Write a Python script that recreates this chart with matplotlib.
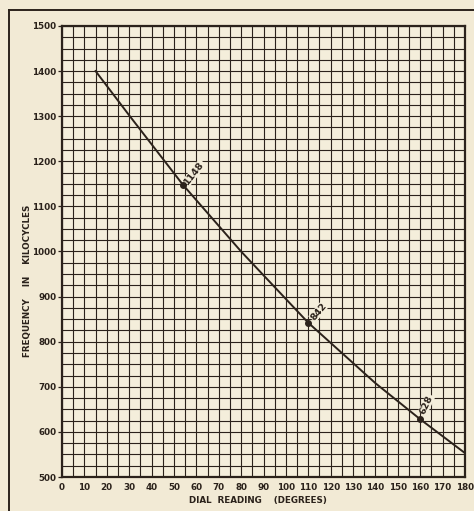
import matplotlib
matplotlib.use("Agg")
import matplotlib.pyplot as plt
import numpy as np

# Curve
dial_deg = [15, 30, 54, 80, 110, 140, 160, 180]
freq_kc = [1400, 1302, 1148, 1000, 842, 708, 628, 553]

# Marked calibration points
mark_deg = [54, 110, 160]
mark_kc = [1148, 842, 628]
mark_labels = ["1148", "842", "628"]

x_ticks = list(range(0, 181, 10))
x_tick_labels = [str(v) for v in x_ticks]
y_ticks = list(range(500, 1501, 100))
y_tick_labels = [str(v) for v in y_ticks]

paper = "#f2ead5"
ink = "#2b221b"

fig = plt.figure(figsize=(4.74, 5.11), dpi=100, facecolor=paper)
ax = fig.add_axes([62/474, 1-477/511, (465-62)/474, (477-26)/511])
ax.set_facecolor("#f4eedb")

ax.set_xlim(0, 180)
ax.set_ylim(500, 1500)
ax.set_xticks(x_ticks)
ax.set_xticklabels(x_tick_labels, fontsize=6.3, fontweight="bold", color=ink)
ax.set_yticks(y_ticks)
ax.set_yticklabels(y_tick_labels, fontsize=6.3, fontweight="bold", color=ink)
ax.set_xticks(np.arange(0, 181, 5), minor=True)
ax.set_yticks(np.arange(500, 1501, 25), minor=True)
ax.grid(which="both", color=ink, linewidth=0.8)
ax.set_axisbelow(True)
ax.tick_params(axis="x", which="both", length=0, pad=4)
ax.tick_params(axis="y", which="major", length=3, width=0.9, color=ink, pad=1)
ax.tick_params(axis="y", which="minor", length=0)
for s in ax.spines.values():
    s.set_color(ink)
    s.set_linewidth(1.6)

ax.plot(dial_deg, freq_kc, color=ink, linewidth=1.4)
ax.scatter(mark_deg, mark_kc, s=16, color=ink, zorder=5)
rots = [52, 50, 65]
offs = [(5.2, 27), (4.6, 25), (2.8, 33)]
for d, f, lab, r, o in zip(mark_deg, mark_kc, mark_labels, rots, offs):
    ax.text(d + o[0], f + o[1], lab, rotation=r, fontsize=6.8, fontweight="bold",
            color=ink, ha="center", va="center",
            bbox=dict(facecolor="#f4eedb", edgecolor="none", pad=0.3))

fig.text(258/474, 1-500/511, "DIAL  READING    (DEGREES)", fontsize=6.3,
         fontweight="bold", color=ink, ha="center", va="center")
fig.text(28/474, 1-281/511, "FREQUENCY    IN    KILOCYCLES", fontsize=6.3,
         fontweight="bold", color=ink, ha="center", va="center", rotation=90)

# outer frame lines
fig.add_artist(plt.Line2D([9/474, 9/474], [0, 1-10/511], color=ink, linewidth=1.4,
                          transform=fig.transFigure))
fig.add_artist(plt.Line2D([9/474, 1], [1-10/511, 1-10/511], color=ink, linewidth=1.4,
                          transform=fig.transFigure))

fig.savefig("out.png", dpi=100, facecolor=paper)
